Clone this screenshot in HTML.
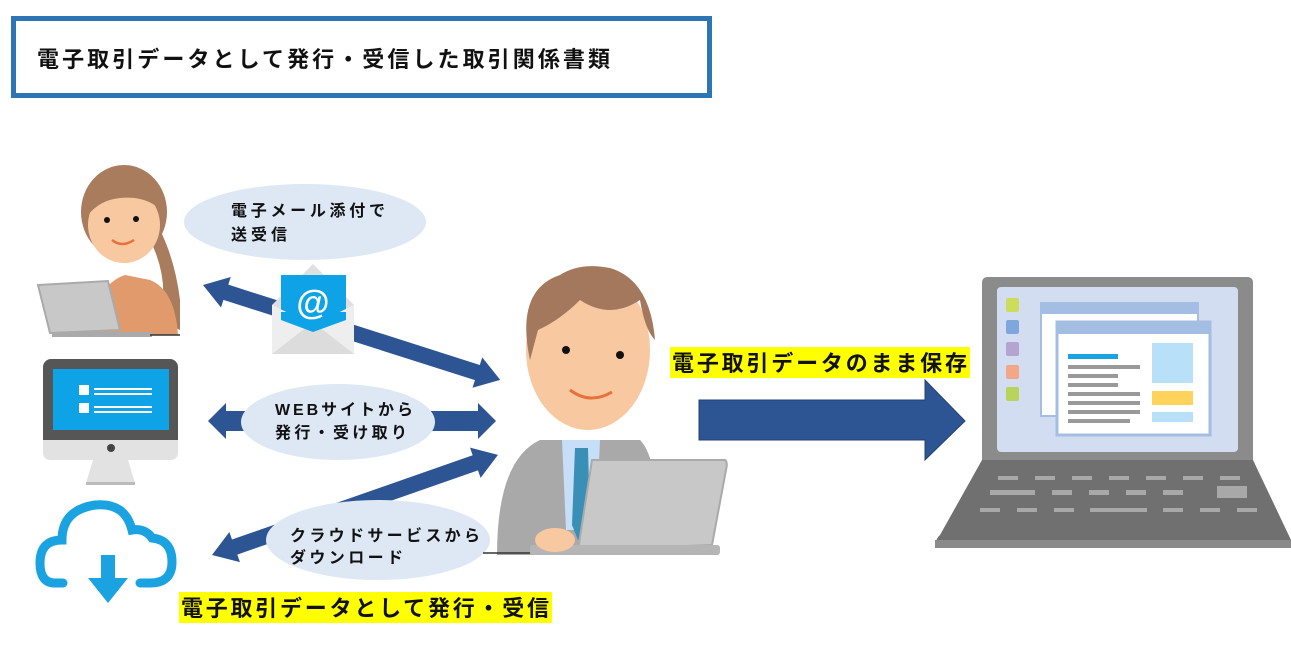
<!DOCTYPE html>
<html><head><meta charset="utf-8"><style>
html,body{margin:0;padding:0;background:#fff;width:1291px;height:649px;overflow:hidden}
svg text{font-family:"Liberation Sans","Noto Sans CJK JP",sans-serif;font-weight:bold}
</style></head><body>
<svg width="1291" height="649" viewBox="0 0 1291 649" xmlns="http://www.w3.org/2000/svg">
<!-- title -->
<rect x="13.5" y="18.5" width="696" height="77" fill="#fff" stroke="#2e75b6" stroke-width="5"/>
<text x="37" y="67" font-size="22" fill="#111" textLength="573" lengthAdjust="spacing">電子取引データとして発行・受信した取引関係書類</text>

<!-- woman -->
<ellipse cx="124" cy="212" rx="43" ry="47" fill="#a87c5c"/>
<path d="M150 240 Q170 280 160 320 L180 330 L180 300 Q175 260 160 230Z" fill="#a87c5c"/>
<path d="M90 335 Q95 285 125 275 L150 280 Q175 290 178 335Z" fill="#e09a6c"/>
<ellipse cx="124" cy="225" rx="36" ry="38" fill="#f8c8a0"/>
<path d="M88 215 Q100 180 130 185 Q155 190 165 215 Q150 195 120 198 Q100 200 88 215Z" fill="#a87c5c"/>
<circle cx="107" cy="220" r="3" fill="#111"/><circle cx="136" cy="219" r="3" fill="#111"/>
<path d="M112 240 Q122 248 134 240" stroke="#e8703a" stroke-width="2.5" fill="none"/>
<path d="M38 285 L108 281 L120 330 L50 333Z" fill="#c8c8c8" stroke="#aaa" stroke-width="2"/>
<rect x="52" y="332" width="100" height="5" fill="#aaa"/>
<line x1="150" y1="335" x2="180" y2="335" stroke="#333" stroke-width="1.5"/>

<!-- bubble 1 -->
<ellipse cx="305" cy="222" rx="121" ry="38" fill="#dde8f4"/>
<text x="231" y="216" font-size="16" fill="#111" textLength="154" lengthAdjust="spacing">電子メール添付で</text>
<text x="231" y="240" font-size="16" fill="#111" textLength="56" lengthAdjust="spacing">送受信</text>

<!-- arrow 1 -->
<g transform="translate(203,285) rotate(17.7)" fill="#2e5593">
<polygon points="0,0 24,-16 24,-8 288,-8 288,-16 312,0 288,16 288,8 24,8 24,16"/>
</g>
<!-- envelope -->
<polygon points="272,305 313,264 354,305 354,354 272,354" fill="#e0e0e0"/>
<rect x="281" y="275" width="65" height="45" fill="#0ea3e6"/>
<polygon points="272,305 313,325 354,305 354,354 272,354" fill="#eeeeee"/>
<polygon points="272,354 313,322 354,354" fill="#dcdcdc"/>
<polygon points="281,320 313,332 346,320 346,312 281,312" fill="#0ea3e6"/>
<text x="313" y="314" font-size="34" fill="#fff" text-anchor="middle" font-family="Liberation Sans">@</text>

<!-- monitor -->
<rect x="43" y="359" width="135" height="100" rx="8" fill="#565656"/>
<rect x="53" y="369" width="116" height="61" fill="#0ea3e6"/>
<path d="M43 440 H178 V452 Q178 460 170 460 H51 Q43 460 43 452Z" fill="#e2e2e2"/>
<circle cx="111" cy="448" r="4" fill="#444"/>
<polygon points="93,460 128,460 135,483 86,483" fill="#e2e2e2"/>
<rect x="86" y="482" width="49" height="3" fill="#bbb"/>
<rect x="79" y="385" width="10" height="10" fill="#fff"/><rect x="79" y="403" width="10" height="10" fill="#fff"/>
<rect x="94" y="388" width="58" height="2" fill="#fff"/><rect x="94" y="393" width="58" height="2" fill="#fff"/>
<rect x="94" y="406" width="58" height="2" fill="#fff"/><rect x="94" y="411" width="58" height="2" fill="#fff"/>

<!-- arrow 2 -->
<polygon points="208,421 226,403 226,411 478,411 478,403 496,421 478,439 478,431 226,431 226,439" fill="#2e5593"/>
<ellipse cx="338" cy="422" rx="97" ry="38" fill="#dde8f4"/>
<text x="275" y="415" font-size="16" fill="#111" textLength="138" lengthAdjust="spacing">WEBサイトから</text>
<text x="275" y="438" font-size="16" fill="#111" textLength="132" lengthAdjust="spacing">発行・受け取り</text>

<!-- cloud -->
<path d="M63 583 H55 Q40 583 40 563 Q40 540 62 540 Q62 510 95 505 Q125 502 132 530 Q145 528 152 538 Q172 540 172 562 Q172 583 150 583 H140" fill="none" stroke="#1aa3e0" stroke-width="9" stroke-linecap="round"/>
<rect x="101" y="555" width="14" height="25" fill="#1aa3e0"/>
<polygon points="88,578 128,578 108,603" fill="#1aa3e0"/>

<!-- arrow 3 -->
<g transform="translate(212,555) rotate(-19.3)" fill="#2e5593">
<polygon points="0,0 24,-16 24,-8 279,-8 279,-16 303,0 279,16 279,8 24,8 24,16"/>
</g>
<ellipse cx="378" cy="540" rx="112" ry="40" fill="#dde8f4"/>
<text x="290" y="541" font-size="16" fill="#111" textLength="190" lengthAdjust="spacing">クラウドサービスから</text>
<text x="290" y="563" font-size="16" fill="#111" textLength="113" lengthAdjust="spacing">ダウンロード</text>

<!-- bottom label -->
<rect x="179" y="592" width="373" height="31" fill="#ffff00"/>
<text x="181" y="616" font-size="22" fill="#111" textLength="368" lengthAdjust="spacing">電子取引データとして発行・受信</text>

<!-- man -->
<path d="M497 555 Q497 460 540 440 L640 440 Q660 460 660 555Z" fill="#a9a9a9"/>
<polygon points="562,440 600,440 596,530 566,530" fill="#c6def7"/>
<polygon points="575,448 588,448 590,525 578,540 572,525" fill="#3a8fb7"/>
<ellipse cx="588" cy="350" rx="62" ry="80" fill="#f8c8a0"/>
<path d="M530 360 Q515 290 560 275 Q580 262 610 268 Q650 280 655 340 Q645 330 640 300 Q610 320 580 300 Q560 320 538 330Z" fill="#a3785c"/>
<circle cx="566" cy="350" r="4" fill="#111"/><circle cx="620" cy="355" r="4" fill="#111"/>
<path d="M570 390 Q590 405 612 392" stroke="#e8703a" stroke-width="3" fill="none"/>
<path d="M592 460 L725 460 Q728 462 726 470 L712 545 L578 550 Z" fill="#c8c8c8" stroke="#aaa" stroke-width="2"/>
<rect x="530" y="545" width="190" height="10" rx="3" fill="#b5b5b5"/>
<ellipse cx="555" cy="540" rx="20" ry="12" fill="#f8c8a0"/>
<line x1="483" y1="553" x2="530" y2="553" stroke="#333" stroke-width="1.5"/>

<!-- right label -->
<rect x="670" y="347" width="300" height="31" fill="#ffff00"/>
<text x="672" y="371" font-size="22" fill="#111" textLength="295" lengthAdjust="spacing">電子取引データのまま保存</text>

<!-- big arrow -->
<polygon points="699,400 925,400 925,380 965,421 925,460 925,440 699,440" fill="#2e5593" stroke="#22406f" stroke-width="1"/>

<!-- laptop -->
<path d="M982 283 Q982 277 988 277 H1247 Q1253 277 1253 283 V460 H982Z" fill="#8b8b8b"/>
<rect x="997" y="287" width="241" height="165" rx="4" fill="#d3ddf1"/>
<rect x="1006" y="298" width="13" height="14" rx="2" fill="#cddc5a"/>
<rect x="1006" y="320" width="13" height="14" rx="2" fill="#7ea8dd"/>
<rect x="1006" y="342" width="13" height="14" rx="2" fill="#b5a3d0"/>
<rect x="1006" y="365" width="13" height="14" rx="2" fill="#f2a886"/>
<rect x="1006" y="387" width="13" height="14" rx="2" fill="#b8d45a"/>
<rect x="1041" y="303" width="157" height="113" fill="#fff" stroke="#a4bde3" stroke-width="2"/>
<rect x="1041" y="303" width="157" height="11" fill="#a4bde3"/>
<rect x="1057" y="322" width="153" height="113" fill="#fff" stroke="#a4bde3" stroke-width="3"/>
<rect x="1057" y="322" width="153" height="12" fill="#a4bde3"/>
<rect x="1068" y="354" width="50" height="5" fill="#1aa3e0"/>
<rect x="1068" y="365" width="72" height="4" fill="#999"/>
<rect x="1068" y="374" width="50" height="4" fill="#999"/>
<rect x="1068" y="383" width="50" height="4" fill="#999"/>
<rect x="1068" y="392" width="72" height="4" fill="#999"/>
<rect x="1068" y="401" width="72" height="4" fill="#999"/>
<rect x="1068" y="410" width="72" height="4" fill="#999"/>
<rect x="1068" y="419" width="62" height="4" fill="#999"/>
<rect x="1152" y="343" width="41" height="40" fill="#b8e0f8"/>
<rect x="1152" y="391" width="41" height="14" fill="#fdd35c"/>
<rect x="1152" y="412" width="41" height="10" fill="#b8e0f8"/>
<path d="M982 460 H1253 L1291 540 V548 H937 Q934 540 940 535Z" fill="#707070"/>
<rect x="935" y="540" width="356" height="8" fill="#8a8a8a"/>
<g fill="#a8a8a8">
<rect x="998" y="476" width="20" height="4"/><rect x="1035" y="476" width="20" height="4"/><rect x="1072" y="476" width="20" height="4"/><rect x="1109" y="476" width="20" height="4"/><rect x="1146" y="476" width="20" height="4"/><rect x="1183" y="476" width="20" height="4"/><rect x="1220" y="476" width="20" height="4"/>
<rect x="990" y="490" width="45" height="5"/><rect x="1052" y="490" width="20" height="5"/><rect x="1089" y="490" width="20" height="5"/><rect x="1126" y="490" width="20" height="5"/><rect x="1163" y="490" width="20" height="5"/><rect x="1217" y="486" width="30" height="12"/>
<rect x="980" y="508" width="20" height="4"/><rect x="1017" y="508" width="20" height="4"/><rect x="1054" y="508" width="20" height="4"/><rect x="1090" y="508" width="57" height="4"/><rect x="1163" y="508" width="20" height="4"/><rect x="1200" y="508" width="20" height="4"/><rect x="1237" y="508" width="20" height="4"/>
</g>
</svg>
</body></html>
